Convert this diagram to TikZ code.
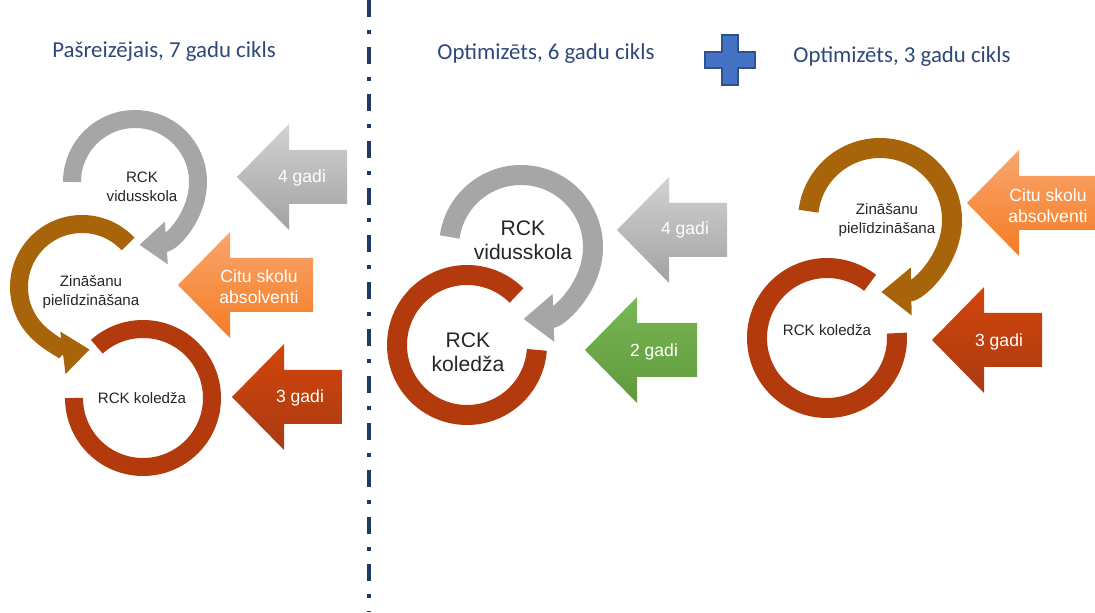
\documentclass[tikz,border=0pt]{standalone}
\usepackage{fontspec}
\setmainfont{Liberation Sans}
\newfontfamily\headfont{Carlito}
\usetikzlibrary{arrows.meta, calc}

\definecolor{headblue}{RGB}{46,72,122}
\definecolor{divblue}{RGB}{31,56,100}
\definecolor{labelgrey}{RGB}{38,38,38}
\definecolor{ringgrey}{HTML}{A6A6A6}
\definecolor{ringbrown}{HTML}{A8640A}
\definecolor{ringred}{HTML}{B23A0C}
\definecolor{plusblue}{HTML}{4472C4}
\definecolor{plusedge}{HTML}{2F528F}
\definecolor{greytop}{HTML}{D2D2D2}
\definecolor{greybot}{HTML}{A2A2A2}
\definecolor{orangetop}{HTML}{F9A66E}
\definecolor{orangebot}{HTML}{F47C22}
\definecolor{redtop}{HTML}{D3450A}
\definecolor{redbot}{HTML}{A93B14}
\definecolor{greentop}{HTML}{7AB654}
\definecolor{greenbot}{HTML}{5E9A3C}

% Block arrow pointing left: tip x, tip y, right end x, top colour, bottom colour
\newcommand{\blockarrow}[5]{%
	\shade [top color = #4, bottom color = #5]
		(#1, #2) -- (#1 + 52, #2 + 53) -- (#1 + 52, #2 + 27) -- (#3, #2 + 27)
		-- (#3, #2 - 27) -- (#1 + 52, #2 - 27) -- (#1 + 52, #2 - 53) -- cycle;}

\begin{document}
\begin{tikzpicture}[x = 0.02cm, y = 0.02cm,
	heading/.style = {font = \headfont\fontsize{13}{15}\selectfont, text = headblue},
	smalllabel/.style = {align = center, text = labelgrey, font = \fontsize{8.6}{10.6}\selectfont},
	biglabel/.style = {align = center, text = labelgrey, font = \fontsize{12}{13.4}\selectfont},
	arrowlabel/.style = {align = center, text = white, font = \fontsize{10}{12}\selectfont},
	thinring/.style = {line width = 0.36cm},
	thickring/.style = {line width = 0.40cm},
	thinhead/.style = {-{Triangle[width = 0.82cm, length = 0.54cm]}},
	thickhead/.style = {-{Triangle[width = 0.92cm, length = 0.6cm]}}]

	\useasboundingbox (0, 0) rectangle (1095, 612);
	\clip (0, 0) rectangle (1095, 612);

	% Divider
	
	\coordinate (divtop) at (369, 612);
	\coordinate (divbot) at (369, 0);
	\draw [divblue, line width = 0.09cm, dash pattern = on 0.34cm off 0.26cm on 0.08cm off 0.26cm] (divtop) -- (divbot);
	
	% Headings
	
	\node [heading] (headnow) at (164, 560) {Pašreizējais, 7 gadu cikls};
	\node [heading] (headsix) at (546, 558) {Optimizēts, 6 gadu cikls};
	\node [heading] (headthree) at (902, 555) {Optimizēts, 3 gadu cikls};
	
	\fill [plusblue, draw = plusedge, line width = 0.7pt]
		(722, 577) -- (738, 577) -- (738, 560) -- (755, 560) -- (755, 544) -- (738, 544)
		-- (738, 527) -- (722, 527) -- (722, 544) -- (705, 544) -- (705, 560) -- (722, 560) -- cycle;
	
	% Current cycle
	
	\coordinate (gL) at (135, 430);
	\coordinate (bL) at (82, 325);
	\coordinate (rL) at (143, 214);
	
	\draw [thinring, ringred] ($(rL) + (132 : 69)$) arc [start angle = 132, end angle = -180, radius = 69];
	\draw [thinring, thinhead, ringbrown] ($(bL) + (43 : 63)$) arc [start angle = 43, end angle = 277, radius = 63];
	\draw [thinring, thinhead, ringgrey] ($(gL) + (180 : 63)$) arc [start angle = 180, end angle = -86, radius = 63];
	
	\node [smalllabel] (vskL) at (142, 425) {RCK\\vidusskola};
	\node [smalllabel] (zinL) at (91, 320) {Zināšanu\\pielīdzināšana};
	\node [smalllabel] (kolL) at (142, 214) {RCK koledža};
	
	\blockarrow{237}{435}{347}{greytop}{greybot}
	\blockarrow{178}{327}{313}{orangetop}{orangebot}
	\blockarrow{232}{215}{342}{redtop}{redbot}
	
	\node [arrowlabel] (yrsfourL) at (302, 434) {4 gadi};
	\node [arrowlabel] (otherL) at (259, 325) {Citu skolu\\absolventi};
	\node [arrowlabel] (yrsthreeL) at (300, 214) {3 gadi};
	
	% Six year cycle
	
	\coordinate (gM) at (521, 365);
	\coordinate (rM) at (467, 267);
	
	\draw [thickring, ringred] ($(rM) + (45 : 70)$) arc [start angle = 45, end angle = 356, radius = 70];
	\draw [thickring, thickhead, ringgrey] ($(gM) + (172 : 72)$) arc [start angle = 172, end angle = -88, radius = 72];
	
	\node [biglabel] (vskM) at (523, 372) {RCK\\vidusskola};
	\node [biglabel] (kolM) at (468, 260) {RCK\\koledža};
	
	\blockarrow{617}{382}{727}{greytop}{greybot}
	\blockarrow{585}{262}{697}{greentop}{greenbot}
	
	\node [arrowlabel] (yrsfourM) at (685, 382) {4 gadi};
	\node [arrowlabel] (yrstwoM) at (654, 260) {2 gadi};
	
	% Three year cycle
	
	\coordinate (bR) at (880, 392);
	\coordinate (rR) at (827, 274);
	
	\draw [thickring, ringred] ($(rR) + (52 : 70)$) arc [start angle = 52, end angle = 364, radius = 70];
	\draw [thickring, thickhead, ringbrown] ($(bR) + (173 : 72)$) arc [start angle = 173, end angle = -89, radius = 72];
	
	\node [smalllabel] (zinR) at (887, 392) {Zināšanu\\pielīdzināšana};
	\node [smalllabel] (kolR) at (827, 282) {RCK koledža};
	
	\blockarrow{967}{409}{1110}{orangetop}{orangebot}
	\blockarrow{932}{272}{1042}{redtop}{redbot}
	
	\node [arrowlabel] (otherR) at (1048, 406) {Citu skolu\\absolventi};
	\node [arrowlabel] (yrsthreeR) at (999, 270) {3 gadi};

\end{tikzpicture}
\end{document}
